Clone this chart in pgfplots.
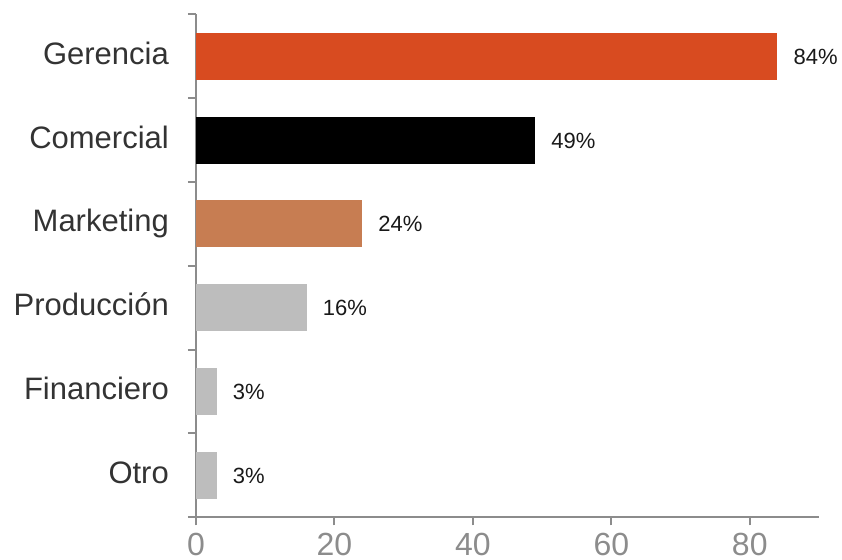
\documentclass[border=0pt]{standalone}
\usepackage{pgfplots}
\pgfplotsset{compat=1.18}
\usepackage{fontspec}
\setmainfont{Liberation Sans}
\definecolor{cOrange}{HTML}{D84B20}
\definecolor{cBrown}{HTML}{C77D52}
\definecolor{cGray}{HTML}{BDBDBD}
\definecolor{axisgray}{HTML}{8C8C8C}
\begin{document}
\begin{tikzpicture}
\begin{axis}[
  scale only axis, width=623bp, height=503bp,
  xmin=0, xmax=90, ymin=-0.5, ymax=5.5,
  xbar, bar width=0.56, bar shift=0pt,
  axis lines*=left,
  axis line style={axisgray, line width=2bp},
  xtick={0,20,...,80},
  tick align=outside,
  major tick length=8bp,
  tick style={axisgray, line width=2bp},
  ytick={-0.5,0.5,1.5,2.5,3.5,4.5,5.5},
  yticklabels={},
  extra y ticks={0,1,2,3,4,5},
  extra y tick labels={Otro,Financiero,Producción,Marketing,Comercial,Gerencia},
  extra y tick style={major tick length=0pt, tick style={draw=none}},
  /pgf/number format/assume math mode=true,
  xticklabel style={font=\fontsize{32bp}{36bp}\selectfont, text=axisgray, inner sep=0pt, anchor=base, yshift=-30bp},
  yticklabel style={font=\fontsize{31bp}{36bp}\selectfont, text=black!80, inner sep=0pt, anchor=base east, xshift=-27bp, yshift=-8bp},
  nodes near coords={\pgfmathprintnumber{\pgfplotspointmeta}\%},
  nodes near coords style={font=\fontsize{22bp}{26bp}\selectfont, text=black!90, anchor=base west, inner sep=0pt, xshift=16bp, yshift=-8bp},
  point meta=x,
  clip=false,
]
\addplot[fill=cOrange, draw=none, bar shift=0pt] coordinates {(84,5)};
\addplot[fill=black, draw=none, bar shift=0pt] coordinates {(49,4)};
\addplot[fill=cBrown, draw=none, bar shift=0pt] coordinates {(24,3)};
\addplot[fill=cGray, draw=none, bar shift=0pt] coordinates {(16,2)};
\addplot[fill=cGray, draw=none, bar shift=0pt] coordinates {(3,1)};
\addplot[fill=cGray, draw=none, bar shift=0pt] coordinates {(3,0)};
\coordinate (o) at (rel axis cs:0,0);
\end{axis}
\pgfresetboundingbox
\path ([shift={(-196bp,-42.7bp)}]o) rectangle ([shift={(646bp,517.3bp)}]o);
\end{tikzpicture}
\end{document}
